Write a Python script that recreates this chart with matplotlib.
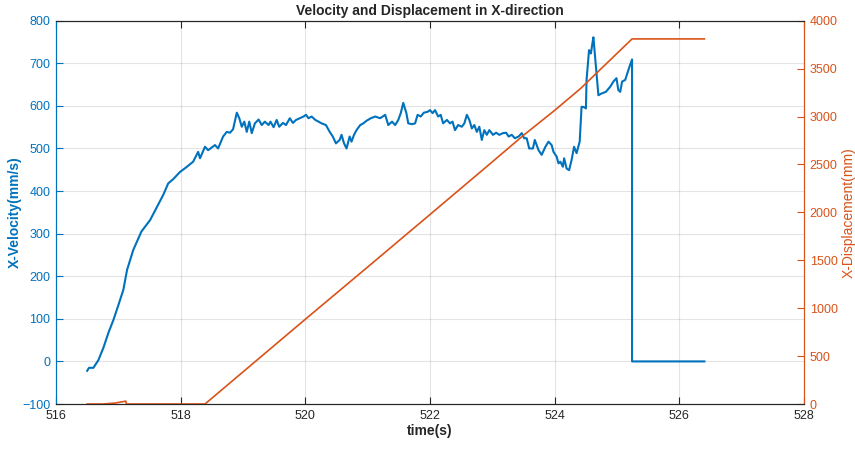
import numpy as np
import matplotlib.pyplot as plt

plt.close('all')
plt.rcParams['font.family'] = ['Liberation Sans', 'DejaVu Sans']

# velocity samples (time in s, velocity in mm/s)
t_vel = [516.50, 516.53, 516.60, 516.68, 516.76, 516.84, 516.92, 517.00, 517.08, 517.14,
         517.24, 517.37, 517.51, 517.62, 517.72, 517.80, 517.88, 517.99, 518.10, 518.20,
         518.28, 518.31, 518.39, 518.44, 518.55, 518.60, 518.68, 518.74, 518.79, 518.84,
         518.90, 518.94, 518.98, 519.02, 519.06, 519.10, 519.14, 519.19, 519.25, 519.30,
         519.35, 519.41, 519.44, 519.49, 519.54, 519.58, 519.64, 519.69, 519.75, 519.80,
         519.85, 519.91, 519.97, 520.01, 520.05, 520.10, 520.16, 520.21, 520.26, 520.33,
         520.39, 520.44, 520.49, 520.55, 520.58, 520.62, 520.66, 520.71, 520.74, 520.78,
         520.82, 520.88, 520.93, 520.98, 521.05, 521.12, 521.20, 521.28, 521.33, 521.39,
         521.44, 521.49, 521.53, 521.57, 521.62, 521.65, 521.71, 521.76, 521.80, 521.85,
         521.90, 521.96, 522.00, 522.04, 522.08, 522.13, 522.17, 522.21, 522.27, 522.32,
         522.36, 522.40, 522.45, 522.51, 522.55, 522.59, 522.63, 522.67, 522.71, 522.75,
         522.79, 522.83, 522.87, 522.91, 522.95, 523.01, 523.06, 523.11, 523.17, 523.22,
         523.26, 523.31, 523.36, 523.42, 523.47, 523.51, 523.55, 523.59, 523.65, 523.68,
         523.74, 523.79, 523.85, 523.90, 523.95, 523.98, 524.03, 524.06, 524.09, 524.13,
         524.15, 524.19, 524.23, 524.27, 524.31, 524.35, 524.40, 524.43, 524.47, 524.50,
         524.51, 524.54, 524.55, 524.58, 524.60, 524.62, 524.64, 524.67, 524.70, 524.75,
         524.82, 524.89, 524.94, 524.99, 525.02, 525.05, 525.08, 525.13, 525.19, 525.24,
         525.24, 526.40]
vel = [-22, -15, -15, 3, 32, 67, 97, 132, 168, 215,
       262, 305, 332, 363, 391, 418, 428, 445, 457, 469,
       492, 477, 504, 496, 508, 500, 528, 539, 537, 545,
       584, 571, 551, 563, 539, 563, 536, 559, 568, 555,
       563, 555, 563, 550, 567, 551, 560, 555, 571, 560,
       567, 571, 575, 579, 571, 575, 567, 563, 559, 555,
       539, 528, 512, 520, 532, 512, 500, 528, 516, 532,
       543, 555, 559, 565, 571, 575, 571, 579, 555, 563,
       555, 567, 583, 607, 583, 559, 557, 559, 579, 575,
       584, 586, 590, 583, 590, 575, 579, 559, 567, 559,
       563, 543, 555, 551, 559, 579, 567, 547, 555, 539,
       551, 520, 543, 532, 543, 532, 537, 532, 536, 537,
       528, 532, 524, 528, 536, 524, 524, 500, 500, 520,
       496, 485, 504, 516, 508, 492, 481, 465, 469, 457,
       477, 453, 449, 473, 504, 489, 516, 598, 597, 594,
       661, 715, 731, 723, 743, 761, 727, 676, 625, 629,
       633, 645, 657, 665, 637, 633, 657, 661, 688, 709,
       0, 0]

# displacement samples (time in s, displacement in mm)
t_disp = [516.50, 516.75, 516.95, 517.12, 517.13, 518.39, 520.00, 521.00, 522.00,
          523.00, 523.50, 524.00, 524.41, 525.24, 526.40]
disp = [0, 0, 10, 30, 0, 0, 885, 1430, 1978, 2528, 2805, 3065, 3290, 3810, 3810]

blue = '#0072BD'
orange = '#D95319'
dark = '#262626'

fig = plt.figure(figsize=(8.55, 4.49), dpi=100)
ax1 = fig.add_axes([0.0655, 0.1002, 0.875, 0.8537])
ax2 = ax1.twinx()

ax1.plot(t_vel, vel, color=blue, linewidth=1.5)
ax2.plot(t_disp, disp, color=orange, linewidth=1.2)

ax1.set_xlim(516, 528)
ax1.set_ylim(-100, 800)
ax2.set_ylim(0, 4000)
ax1.set_xticks(np.arange(516, 529, 2))
ax1.set_yticks(np.arange(-100, 801, 100))
ax2.set_yticks(np.arange(0, 4001, 500))

ax1.grid(True, color=dark, alpha=0.12, linewidth=0.8)
ax1.set_axisbelow(True)

ax1.tick_params(axis='x', direction='in', top=True, colors=dark, labelsize=9, length=5, pad=4)
ax1.tick_params(axis='y', direction='in', colors=blue, labelsize=9, length=5, pad=4)
ax2.tick_params(axis='y', direction='in', colors=orange, labelsize=9, length=5, pad=4)

for ax in (ax1, ax2):
    ax.spines['top'].set_color(dark)
    ax.spines['bottom'].set_color(dark)
    ax.spines['left'].set_color(blue)
    ax.spines['right'].set_color(orange)
    for s in ax.spines.values():
        s.set_linewidth(0.8)

ax1.set_xlabel('time(s)', fontsize=10, fontweight='bold', color=dark, labelpad=2)
ax1.set_ylabel('X-Velocity(mm/s)', fontsize=10, fontweight='bold', color=blue, labelpad=0)
ax2.set_ylabel('X-Displacement(mm)', fontsize=10, color=orange, labelpad=3)
ax1.set_title('Velocity and Displacement in X-direction', fontsize=10, fontweight='bold',
              color=dark, pad=4)

plt.savefig('out.png', dpi=100)
